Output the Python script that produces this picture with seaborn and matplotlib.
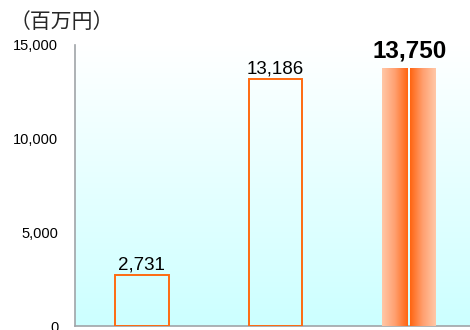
import numpy as np
import pandas as pd
import matplotlib
matplotlib.use("Agg")
import matplotlib.pyplot as plt
from matplotlib.colors import LinearSegmentedColormap
import seaborn as sns

categories = ["A", "B", "C"]
values = [2731, 13186, 13750]
labels = ["2,731", "13,186", "13,750"]
yticks = [0, 5000, 10000, 15000]
ytick_labels = ["0", "5,000", "10,000", "15,000"]
unit_label = "（百万円）"

sns.set_theme(style="white")
plt.rcParams["font.family"] = ["Liberation Sans", "Noto Sans CJK JP", "DejaVu Sans"]

fig = plt.figure(figsize=(4.7, 3.3), dpi=100)
ax = fig.add_axes([75 / 470, 4 / 330, 401 / 470, 281 / 330])

df = pd.DataFrame({"cat": categories, "val": values})
sns.barplot(data=df, x="cat", y="val", ax=ax, width=0.4,
            facecolor="none", edgecolor="#ff6a10", linewidth=1.4, zorder=3)

ax.set_xlim(-0.5, 2.5)
ax.set_ylim(0, 15000)

# background gradient: white at top, pale cyan at bottom
bg = LinearSegmentedColormap.from_list("bg", ["#ccffff", "#ffffff"])
grad = np.linspace(0, 1, 256).reshape(-1, 1)
ax.imshow(grad, cmap=bg, aspect="auto", origin="lower",
          extent=[-0.5, 2.5, 0, 15000], zorder=0)

# highlighted bar: two halves shaded like a split cylinder
hl = ax.patches[2]
hl.set_edgecolor("none")
x0 = hl.get_x()
w = hl.get_width()
h = hl.get_height()
shade = LinearSegmentedColormap.from_list("sh", ["#ffc8a8", "#ffa070", "#ff6410"])
ramp = np.linspace(0, 1, 256).reshape(1, -1)
gap = w * 0.02
ax.imshow(ramp, cmap=shade, aspect="auto",
          extent=[x0, x0 + w / 2 - gap, 0, h], zorder=3)
ax.imshow(ramp[:, ::-1], cmap=shade, aspect="auto",
          extent=[x0 + w / 2 + gap, x0 + w, 0, h], zorder=3)

for i, (p, lab) in enumerate(zip(ax.patches, labels)):
    cx = p.get_x() + p.get_width() / 2
    if i == 2:
        ax.text(cx, p.get_height() + 300, lab, ha="center", va="bottom",
                fontsize=17.5, fontweight="bold", color="black", zorder=5)
    else:
        ax.text(cx, p.get_height() + 60, lab, ha="center", va="bottom",
                fontsize=13.5, color="black", zorder=5)

ax.set_yticks(yticks)
ax.set_yticklabels(ytick_labels, fontsize=10.5)
ax.tick_params(axis="y", length=0, pad=12, labelcolor="black")
ax.set_xticks([])
ax.set_xlabel("")
ax.set_ylabel("")
for s in ["top", "right"]:
    ax.spines[s].set_visible(False)
for s in ["left", "bottom"]:
    ax.spines[s].set_color("#a0a4a8")
    ax.spines[s].set_linewidth(1.2)
ax.grid(False)

fig.text(10 / 470, 1 - 22.5 / 330, unit_label, fontsize=15, ha="left", va="center")

fig.savefig("out.png", dpi=100)
